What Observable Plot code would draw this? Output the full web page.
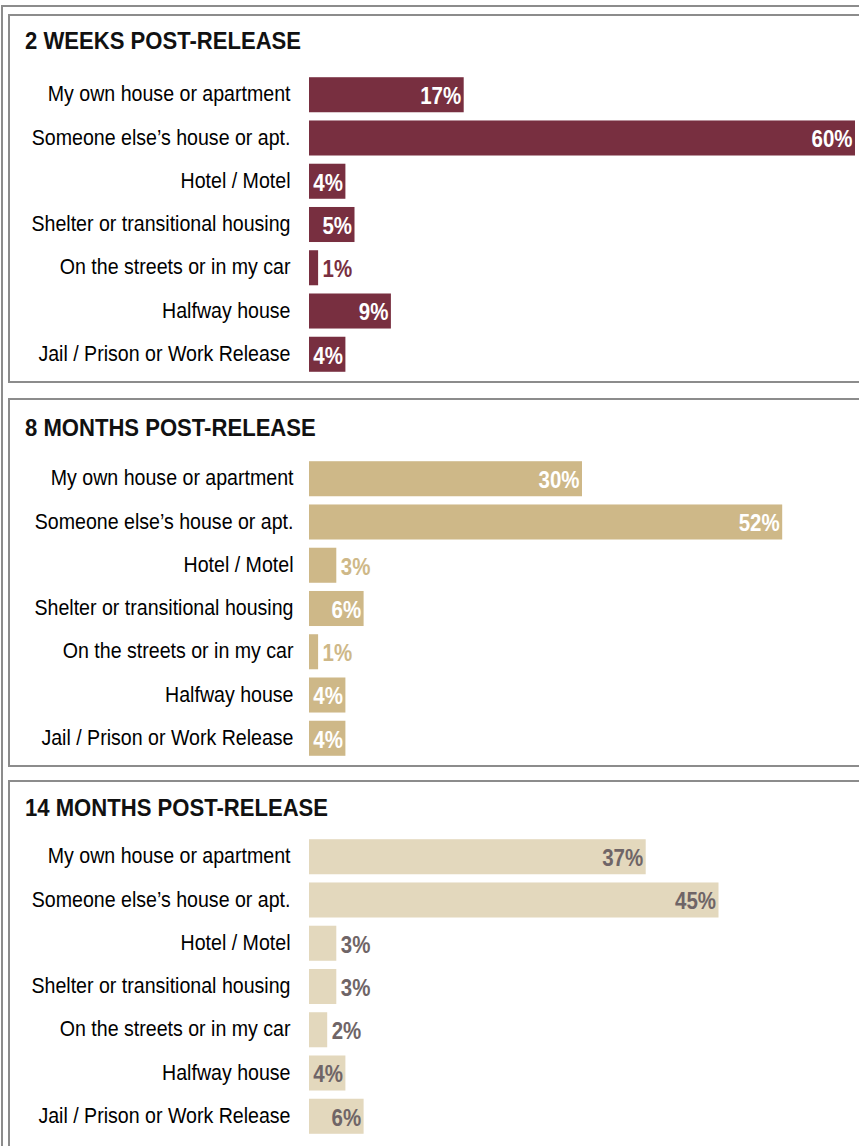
<!DOCTYPE html>
<html>
<head>
<meta charset="utf-8">
<script src="https://cdn.jsdelivr.net/npm/d3@7"></script>
<script src="https://cdn.jsdelivr.net/npm/@observablehq/plot@0.6"></script>
<style>
  html, body { margin: 0; padding: 0; background: #fff; }
  #page { position: relative; width: 859px; height: 1146px; overflow: hidden; background: #fff;
          font-family: "Liberation Sans", Arial, sans-serif; }
  .frame { position: absolute; border: 2px solid #8c8c8c; box-sizing: border-box; }
  .title { position: absolute; font-weight: bold; font-size: 23px; line-height: 23px; color: #111;
           white-space: nowrap; transform: scaleX(0.96); transform-origin: 0 0; }
  .chart { position: absolute; left: 8px; }
</style>
</head>
<body>
<div id="page"></div>
<script>
const categories = [
  "My own house or apartment",
  "Someone else’s house or apt.",
  "Hotel / Motel",
  "Shelter or transitional housing",
  "On the streets or in my car",
  "Halfway house",
  "Jail / Prison or Work Release"
];
const titles = ["2 WEEKS POST-RELEASE", "8 MONTHS POST-RELEASE", "14 MONTHS POST-RELEASE"];
const weeks2 = [17, 60, 4, 5, 1, 9, 4];
const months8 = [30, 52, 3, 6, 1, 4, 4];
const months14 = [37, 45, 3, 3, 2, 4, 6];

const FONT = '"Liberation Sans", Arial, sans-serif';
const page = document.getElementById("page");

function addDiv(cls, css, text) {
  const d = document.createElement("div");
  d.className = cls;
  Object.assign(d.style, css);
  if (text) d.textContent = text;
  page.appendChild(d);
  return d;
}

// narrow the glyphs to imitate the condensed face of the original
function condense(svg, selector, ratio) {
  svg.querySelectorAll(selector).forEach(t => {
    const w = t.getComputedTextLength();
    t.setAttribute("textLength", (w * ratio).toFixed(2));
    t.setAttribute("lengthAdjust", "spacingAndGlyphs");
  });
}

// outer frame
addDiv("frame", {left: "1px", top: "5px", width: "900px", height: "1200px"});

const panels = [
  {values: weeks2, title: titles[0], frameTop: 14, frameH: 369, titleTop: 29.5, chartTop: 69, fill: "#782F40", inText: "#ffffff", outText: "#782F40", pad: 19},
  {values: months8, title: titles[1], frameTop: 398, frameH: 369, titleTop: 416.5, chartTop: 453, fill: "#CEB888", inText: "#ffffff", outText: "#CEB888", pad: 16},
  {values: months14, title: titles[2], frameTop: 780, frameH: 420, titleTop: 796.5, chartTop: 831, fill: "#E3D8BD", inText: "#6F6567", outText: "#6F6567", pad: 19}
];

for (const p of panels) {
  addDiv("frame", {left: "8px", top: p.frameTop + "px", width: "900px", height: p.frameH + "px"});
  addDiv("title", {left: "25px", top: p.titleTop + "px"}, p.title);

  const rows = categories.map((c, i) => ({cat: c, value: p.values[i]}));
  const chart = Plot.plot({
    width: 851,
    height: 311,
    marginLeft: 301,
    marginRight: 4,
    marginTop: 0,
    marginBottom: 0,
    x: {domain: [0, 60], axis: null},
    y: {domain: categories, padding: 0.19, round: false, label: null},
    style: {fontFamily: FONT, background: "transparent", overflow: "visible", color: "#000"},
    marks: [
      Plot.barX(rows, {x: "value", y: "cat", fill: p.fill}),
      Plot.axisY({tickSize: 0, tickPadding: p.pad, fontSize: 22, label: null, fill: "#000", dy: -1}),
      Plot.text(rows.filter(d => d.value >= 4), {
        x: "value", y: "cat", text: d => d.value + "%", textAnchor: "end", dx: -3, dy: 1.5,
        fill: p.inText, fontSize: 23, fontWeight: "bold"
      }),
      Plot.text(rows.filter(d => d.value < 4), {
        x: "value", y: "cat", text: d => d.value + "%", textAnchor: "start", dx: 4, dy: 1.5,
        fill: p.outText, fontSize: 23, fontWeight: "bold"
      })
    ]
  });
  const wrap = addDiv("chart", {top: p.chartTop + "px"});
  wrap.appendChild(chart);
  condense(chart, 'g[aria-label="y-axis tick label"] text', 0.89);
  condense(chart, 'g[aria-label="text"] text', 0.89);
}
</script>
</body>
</html>
